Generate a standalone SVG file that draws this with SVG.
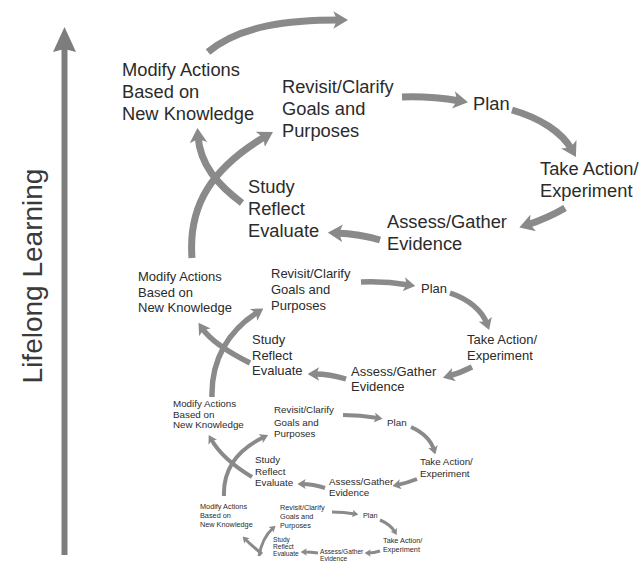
<svg xmlns="http://www.w3.org/2000/svg" width="643" height="562" viewBox="0 0 643 562">
<defs>
<style>
text{font-family:"Liberation Sans","DejaVu Sans",Arial,sans-serif;fill:#2b2b2b}
.t1{font-size:18.3px}
.t2{font-size:13px}
.t3{font-size:9.8px}
.t4{font-size:7.3px}
.t5{font-size:6.6px}
.axis{font-size:28px;fill:#3a3a3a}
.c{fill:none;stroke:#8a8a8a;marker-end:url(#ah)}
.w1{stroke-width:7}
.w2{stroke-width:5.5}
.w3{stroke-width:4}
.w4{stroke-width:3}
</style>
<marker id="ah" viewBox="0 0 10 12" refX="4.5" refY="6" markerWidth="2.1" markerHeight="2.52" orient="auto" markerUnits="strokeWidth">
<path d="M0,0 L10,6 L0,12 L2.5,6 z" fill="#8a8a8a"/>
</marker>
</defs>
<rect width="643" height="562" fill="#ffffff"/>

<g id="axis">
<rect x="61.5" y="48" width="6" height="507" fill="#7d7d7d"/>
<polygon points="64.5,27 76,52 64.5,49 53,52" fill="#7d7d7d"/>
<text class="axis" transform="translate(42,276) rotate(-90)" text-anchor="middle">Lifelong Learning</text>
</g>

<g id="connectors">
<!-- level 1 -->
<path class="c w1" d="M208,52 C240,25 290,20 340,20"/>
<path class="c w1" d="M402,97 Q430,96 460,101"/>
<path class="c w1" d="M512,110 C540,118 562,132 572,150"/>
<path class="c w1" d="M565,208 Q548,218 527,225"/>
<path class="c w1" d="M380,240 Q360,234 336,233"/>
<path class="c w1" d="M242,203 C218,185 200,165 198,136"/>
<path class="c w1" d="M192,258 C188,205 212,168 266,136"/>
<!-- level 2 -->
<path class="c w2" d="M361,282 Q385,281 409,285"/>
<path class="c w2" d="M450,293 C468,299 482,310 487,324"/>
<path class="c w2" d="M472,367 Q460,373 449,376"/>
<path class="c w2" d="M346,379 Q330,374 314,374"/>
<path class="c w2" d="M250,363 C228,352 210,340 202,328"/>
<path class="c w2" d="M212,397 C211,360 228,331 258,312"/>
<!-- level 3 -->
<path class="c w3" d="M343,415 Q360,415 378,418"/>
<path class="c w3" d="M411,427 C422,432 431,440 434,450"/>
<path class="c w3" d="M417,479 Q407,483 397,485"/>
<path class="c w3" d="M325,488 Q313,484 302,484"/>
<path class="c w3" d="M252,477 C237,468 220,455 211,439"/>
<path class="c w3" d="M224,496 C223,470 237,450 264,437"/>
<!-- level 4 -->
<path class="c w4" d="M332,512 Q344,512 355,514"/>
<path class="c w4" d="M380,520 C387,523 392,527 395,532"/>
<path class="c w4" d="M380,551 Q374,553 368,553"/>
<path class="c w4" d="M318,553 Q311,552 304,552"/>
<path class="c w4" d="M262,554 Q252,546 245,539"/>
<path class="c w4" d="M259,556 Q262,538 273,528"/>
</g>

<!-- Level 1 -->
<g id="l1-modify"><text class="t1" x="122" y="76">Modify Actions</text><text class="t1" x="122" y="98">Based on</text><text class="t1" x="122" y="120">New Knowledge</text></g>
<g id="l1-revisit"><text class="t1" x="282" y="93">Revisit/Clarify</text><text class="t1" x="282" y="115">Goals and</text><text class="t1" x="282" y="137">Purposes</text></g>
<g id="l1-plan"><text class="t1" x="473" y="110">Plan</text></g>
<g id="l1-take"><text class="t1" x="540" y="175">Take Action/</text><text class="t1" x="540" y="197">Experiment</text></g>
<g id="l1-assess"><text class="t1" x="387" y="228">Assess/Gather</text><text class="t1" x="387" y="250">Evidence</text></g>
<g id="l1-study"><text class="t1" x="248" y="193">Study</text><text class="t1" x="248" y="215">Reflect</text><text class="t1" x="248" y="237">Evaluate</text></g>

<!-- Level 2 -->
<g id="l2-modify"><text class="t2" x="138" y="281">Modify Actions</text><text class="t2" x="138" y="296.5">Based on</text><text class="t2" x="138" y="312">New Knowledge</text></g>
<g id="l2-revisit"><text class="t2" x="271" y="278">Revisit/Clarify</text><text class="t2" x="271" y="294">Goals and</text><text class="t2" x="271" y="310">Purposes</text></g>
<g id="l2-plan"><text class="t2" x="421" y="293">Plan</text></g>
<g id="l2-take"><text class="t2" x="467" y="344">Take Action/</text><text class="t2" x="467" y="360">Experiment</text></g>
<g id="l2-assess"><text class="t2" x="351" y="376">Assess/Gather</text><text class="t2" x="351" y="391">Evidence</text></g>
<g id="l2-study"><text class="t2" x="252" y="344">Study</text><text class="t2" x="252" y="360">Reflect</text><text class="t2" x="252" y="375">Evaluate</text></g>

<!-- Level 3 -->
<g id="l3-modify"><text class="t3" x="173" y="407">Modify Actions</text><text class="t3" x="173" y="417.5">Based on</text><text class="t3" x="173" y="428">New Knowledge</text></g>
<g id="l3-revisit"><text class="t3" x="274" y="413">Revisit/Clarify</text><text class="t3" x="274" y="425.5">Goals and</text><text class="t3" x="274" y="437">Purposes</text></g>
<g id="l3-plan"><text class="t3" x="387" y="426">Plan</text></g>
<g id="l3-take"><text class="t3" x="420" y="465">Take Action/</text><text class="t3" x="420" y="477">Experiment</text></g>
<g id="l3-assess"><text class="t3" x="329" y="485">Assess/Gather</text><text class="t3" x="329" y="496">Evidence</text></g>
<g id="l3-study"><text class="t3" x="255" y="463">Study</text><text class="t3" x="255" y="474.5">Reflect</text><text class="t3" x="255" y="486">Evaluate</text></g>

<!-- Level 4 -->
<g id="l4-modify"><text class="t4" x="200" y="509">Modify Actions</text><text class="t4" x="200" y="518">Based on</text><text class="t4" x="200" y="527">New Knowledge</text></g>
<g id="l4-revisit"><text class="t4" x="280" y="510">Revisit/Clarify</text><text class="t4" x="280" y="519">Goals and</text><text class="t4" x="280" y="527.5">Purposes</text></g>
<g id="l4-plan"><text class="t4" x="363" y="518">Plan</text></g>
<g id="l4-take"><text class="t4" x="383" y="543">Take Action/</text><text class="t4" x="383" y="551.5">Experiment</text></g>
<g id="l4-assess"><text class="t5" x="320" y="554">Assess/Gather</text><text class="t5" x="320" y="561">Evidence</text></g>
<g id="l4-study"><text class="t5" x="273" y="541.5">Study</text><text class="t5" x="273" y="548.5">Reflect</text><text class="t5" x="273" y="556">Evaluate</text></g>
</svg>
